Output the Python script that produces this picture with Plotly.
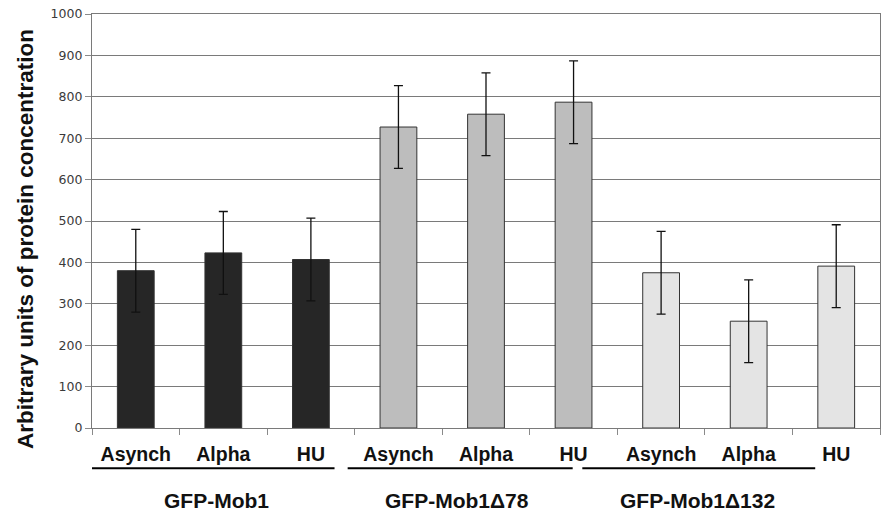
import plotly.graph_objects as go

conditions = ["Asynch", "Alpha", "HU", "Asynch", "Alpha", "HU", "Asynch", "Alpha", "HU"]
values = [380, 423, 407, 727, 758, 787, 375, 258, 391]
errors = [100, 100, 100, 100, 100, 100, 100, 100, 100]
groups = ["GFP-Mob1", "GFP-Mob1\u039478", "GFP-Mob1\u0394132"]
group_colors = ["#262626", "#bdbdbd", "#e4e4e4"]
y_ticks = [0, 100, 200, 300, 400, 500, 600, 700, 800, 900, 1000]

xs = list(range(len(values)))
colors = [group_colors[i // 3] for i in xs]

fig = go.Figure()
fig.add_trace(go.Bar(
    x=xs, y=values,
    marker=dict(color=colors, line=dict(color="#333333", width=1)),
    error_y=dict(type="data", array=errors, visible=True, color="#111111", thickness=1.3, width=4.5),
    width=0.42,
    showlegend=False,
))

shapes = []
annotations = []
# group underline spans (category-index offsets) and label positions
line_spans = [(-0.65, 2.27), (2.42, 4.99), (5.10, 7.76)]
label_pos = [0.92, 3.67, 6.41]
for g, (a, b) in enumerate(line_spans):
    shapes.append(dict(type="line", xref="x", yref="paper", x0=a, x1=b, y0=-0.097, y1=-0.097,
                       line=dict(color="#000000", width=2)))
    annotations.append(dict(text="<b>%s</b>" % groups[g], xref="x", yref="paper", x=label_pos[g], y=-0.175,
                            showarrow=False, font=dict(family="Arial, Liberation Sans", size=21, color="#111111"),
                            xanchor="center", yanchor="middle"))

annotations.append(dict(text="<b>Arbitrary units of protein concentration</b>", xref="paper", yref="paper",
                        x=0, y=0.4565, xshift=-67, textangle=-90, showarrow=False,
                        font=dict(family="Arial, Liberation Sans", size=22.5, color="#111111"),
                        xanchor="center", yanchor="middle"))

fig.update_layout(
    width=882, height=512,
    margin=dict(l=92, r=2, t=14, b=84),
    plot_bgcolor="white", paper_bgcolor="white",
    shapes=shapes, annotations=annotations,
    xaxis=dict(
        range=[-0.5, 8.5], tickmode="array", tickvals=xs, ticktext=["<b>%s</b>" % c for c in conditions],
        tickfont=dict(family="Arial, Liberation Sans", size=19.5, color="#111111"),
        showgrid=False, showline=True, linecolor="#7a7a7a", linewidth=1.2, zeroline=False, mirror=True,
        ticks="", ticklabelstandoff=8, automargin=False,
        minor=dict(tickmode="array", tickvals=[i - 0.5 for i in range(10)], ticks="outside",
                   ticklen=6, tickcolor="#8a8a8a", tickwidth=1, showgrid=False),
    ),
    yaxis=dict(
        range=[0, 1000], tickmode="array", tickvals=y_ticks, ticktext=[str(v) for v in y_ticks],
        tickfont=dict(family="DejaVu Sans", size=12.5, color="#3a3a3a"),
        showgrid=True, gridcolor="#7a7a7a", gridwidth=1.2,
        showline=True, linecolor="#7a7a7a", linewidth=1.2, mirror=True,
        ticks="outside", ticklen=6, tickcolor="#8a8a8a", zeroline=False, automargin=False,
        ticklabeloverflow="allow",
    ),
)

fig.write_html("out.html", config={"displayModeBar": False},
               post_script="document.body.style.margin='0';document.body.style.overflow='hidden';")
